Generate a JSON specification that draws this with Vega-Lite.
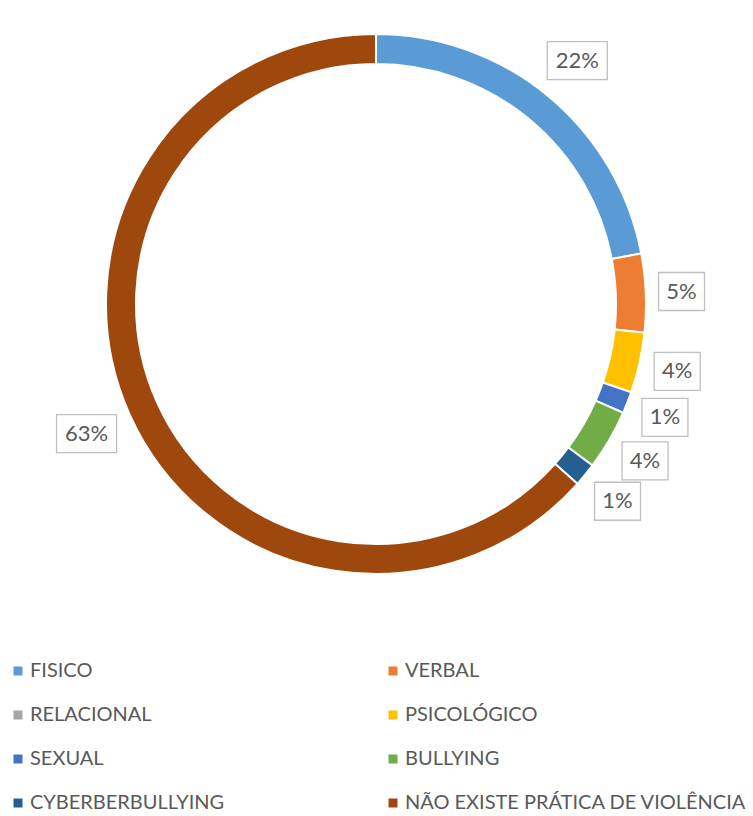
{
  "$schema": "https://vega.github.io/schema/vega-lite/v6.json",
  "width": 753,
  "height": 816,
  "padding": 0,
  "autosize": "none",
  "background": "white",
  "config": {"view": {"stroke": null}, "font": "Lato"},
  "data": {
    "values": [
      {"idx": 1, "category": "FISICO", "value": 0.22},
      {"idx": 2, "category": "VERBAL", "value": 0.047},
      {"idx": 3, "category": "RELACIONAL", "value": 0},
      {"idx": 4, "category": "PSICOLÓGICO", "value": 0.036},
      {"idx": 5, "category": "SEXUAL", "value": 0.013},
      {"idx": 6, "category": "BULLYING", "value": 0.036},
      {"idx": 7, "category": "CYBERBERBULLYING", "value": 0.014},
      {"idx": 8, "category": "NÃO EXISTE PRÁTICA DE VIOLÊNCIA", "value": 0.634}
    ]
  },
  "layer": [
    {
      "mark": {"type": "arc", "outerRadius": 270, "innerRadius": 240, "stroke": "white", "strokeWidth": 2},
      "encoding": {
        "x": {"datum": 0, "type": "quantitative", "scale": {"domain": [-376, 377], "nice": false, "zero": false}, "axis": null},
        "y": {"datum": 0, "type": "quantitative", "scale": {"domain": [-512, 304], "nice": false, "zero": false}, "axis": null},
        "theta": {"field": "value", "type": "quantitative", "stack": true},
        "order": {"field": "idx", "type": "quantitative"},
        "color": {
          "field": "category",
          "type": "nominal",
          "scale": {
            "domain": ["FISICO", "VERBAL", "RELACIONAL", "PSICOLÓGICO", "SEXUAL", "BULLYING", "CYBERBERBULLYING", "NÃO EXISTE PRÁTICA DE VIOLÊNCIA"],
            "range": ["#5B9BD5", "#ED7D31", "#A5A5A5", "#FFC000", "#4472C4", "#70AD47", "#255E91", "#9E480E"]
          },
          "legend": {
            "title": null,
            "orient": "none",
            "direction": "horizontal",
            "legendX": 8,
            "legendY": 661,
            "columns": 2,
            "padding": 0,
            "symbolType": "square",
            "symbolSize": 81,
            "symbolStrokeWidth": 0,
            "labelFont": "Lato",
            "labelFontSize": 20,
            "labelColor": "#595959",
            "labelOffset": 2,
            "labelLimit": 500,
            "rowPadding": 24,
            "columnPadding": 158
          }
        }
      }
    },
    {
      "transform": [
        {"window": [{"op": "sum", "field": "value", "as": "cum"}], "sort": [{"field": "idx", "order": "ascending"}], "frame": [null, 0]},
        {"filter": "datum.value > 0"},
        {"calculate": "2 * PI * (datum.cum - datum.value / 2)", "as": "mid"},
        {"calculate": "datum.value >= 0.095 ? 30 : 23", "as": "hw"},
        {"calculate": "282 + datum.hw * abs(sin(datum.mid)) + 19 * abs(cos(datum.mid))", "as": "lr"},
        {"calculate": "datum.lr * sin(datum.mid)", "as": "lx"},
        {"calculate": "datum.lr * cos(datum.mid)", "as": "ly"}
      ],
      "encoding": {
        "x": {"field": "lx", "type": "quantitative", "scale": {"domain": [-376, 377], "nice": false, "zero": false}, "axis": null},
        "y": {"field": "ly", "type": "quantitative", "scale": {"domain": [-512, 304], "nice": false, "zero": false}, "axis": null}
      },
      "layer": [
        {
          "transform": [{"filter": "datum.value >= 0.095"}],
          "mark": {"type": "point", "shape": "M-1,-0.633H1V0.633H-1Z", "size": 3600, "filled": true, "fill": "white", "stroke": "#BFBFBF", "strokeWidth": 1.3, "opacity": 1}
        },
        {
          "transform": [{"filter": "datum.value < 0.095"}],
          "mark": {"type": "point", "shape": "M-1,-0.826H1V0.826H-1Z", "size": 2116, "filled": true, "fill": "white", "stroke": "#BFBFBF", "strokeWidth": 1.3, "opacity": 1}
        },
        {
          "mark": {"type": "text", "font": "Lato", "fontSize": 22, "color": "#595959", "align": "center", "baseline": "middle"},
          "encoding": {
            "text": {"field": "value", "type": "quantitative", "format": ".0%"}
          }
        }
      ]
    }
  ]
}
